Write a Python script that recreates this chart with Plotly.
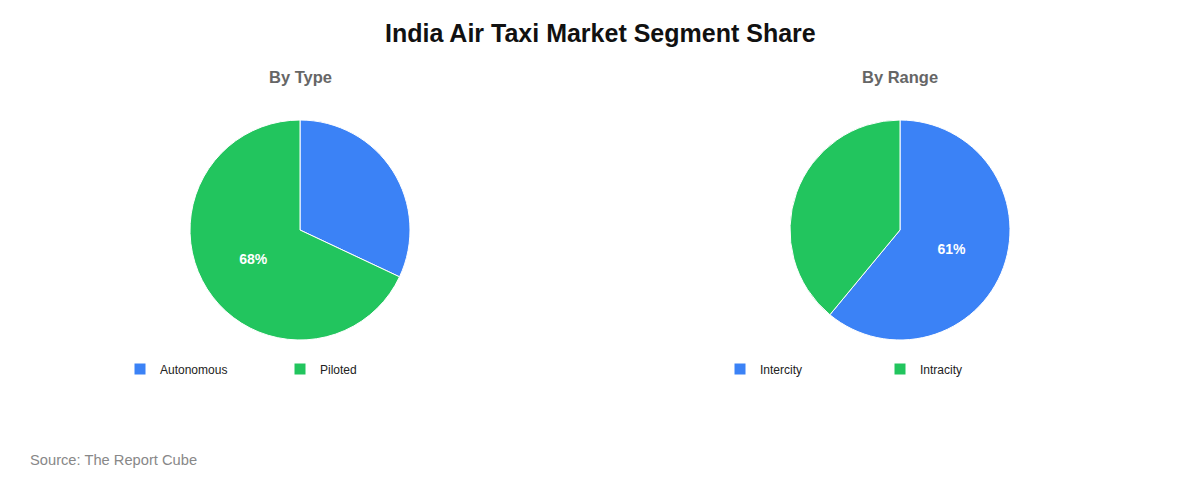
import plotly.graph_objects as go

TITLE = 'India Air Taxi Market Segment Share'
SOURCE = 'Source: The Report Cube'

type_labels = ['Autonomous', 'Piloted']
type_values = [32, 68]

range_labels = ['Intercity', 'Intracity']
range_values = [61, 39]

BLUE = '#3B82F6'
GREEN = '#22C55E'
W, H = 1200, 480


def px_dom(cx, cy, r):
    # pixel centre / radius -> paper domain
    return dict(x=[(cx - r) / W, (cx + r) / W], y=[1 - (cy + r) / H, 1 - (cy - r) / H])


def big_only(values):
    # only the largest slice carries a percentage label
    top = max(values)
    return [f'<b>{v}%</b>' if v == top else '' for v in values]


def note(text, x, y, size, color, anchor='center'):
    return dict(text=text, x=x / W, y=1 - y / H, xref='paper', yref='paper',
                xanchor=anchor, yanchor='middle', showarrow=False,
                font=dict(size=size, color=color))


fig = go.Figure()

fig.add_trace(go.Pie(labels=type_labels, values=type_values,
                     text=big_only(type_values), textinfo='text',
                     textposition='inside', insidetextorientation='horizontal',
                     textfont=dict(color='white', size=14, family='Liberation Sans'),
                     marker=dict(colors=[BLUE, GREEN], line=dict(color='white', width=1)),
                     sort=False, direction='clockwise', rotation=0,
                     domain=px_dom(300, 230, 110), legend='legend'))

fig.add_trace(go.Pie(labels=range_labels, values=range_values,
                     text=big_only(range_values), textinfo='text',
                     textposition='inside', insidetextorientation='horizontal',
                     textfont=dict(color='white', size=14, family='Liberation Sans'),
                     marker=dict(colors=[BLUE, GREEN], line=dict(color='white', width=1)),
                     sort=False, direction='clockwise', rotation=0,
                     domain=px_dom(900, 230, 110), legend='legend2'))

legend_style = dict(orientation='h', yanchor='middle', xanchor='left',
                    entrywidth=115, entrywidthmode='pixels',
                    font=dict(size=12, color='#222', family='Liberation Sans'),
                    bgcolor='rgba(0,0,0,0)', itemclick=False)

fig.update_layout(
    width=W, height=H,
    margin=dict(l=0, r=0, t=0, b=0),
    paper_bgcolor='white',
    font=dict(family='Liberation Sans'),
    showlegend=True,
    legend=dict(x=120 / W, y=1 - 369 / H, **legend_style),
    legend2=dict(x=720 / W, y=1 - 369 / H, **legend_style),
    annotations=[
        note(f'<b>{TITLE}</b>', 600, 33, 25, '#111'),
        note('<b>By Type</b>', 300, 77, 16.5, '#666'),
        note('<b>By Range</b>', 900, 77, 16.5, '#666'),
        note(SOURCE, 28, 460, 14.7, '#888', anchor='left'),
    ],
)

# drop the default page margin so the 1200x480 figure sits at the window origin
fig.write_html('out.html', config={'displayModeBar': False},
               post_script="document.body.style.margin='0';")
